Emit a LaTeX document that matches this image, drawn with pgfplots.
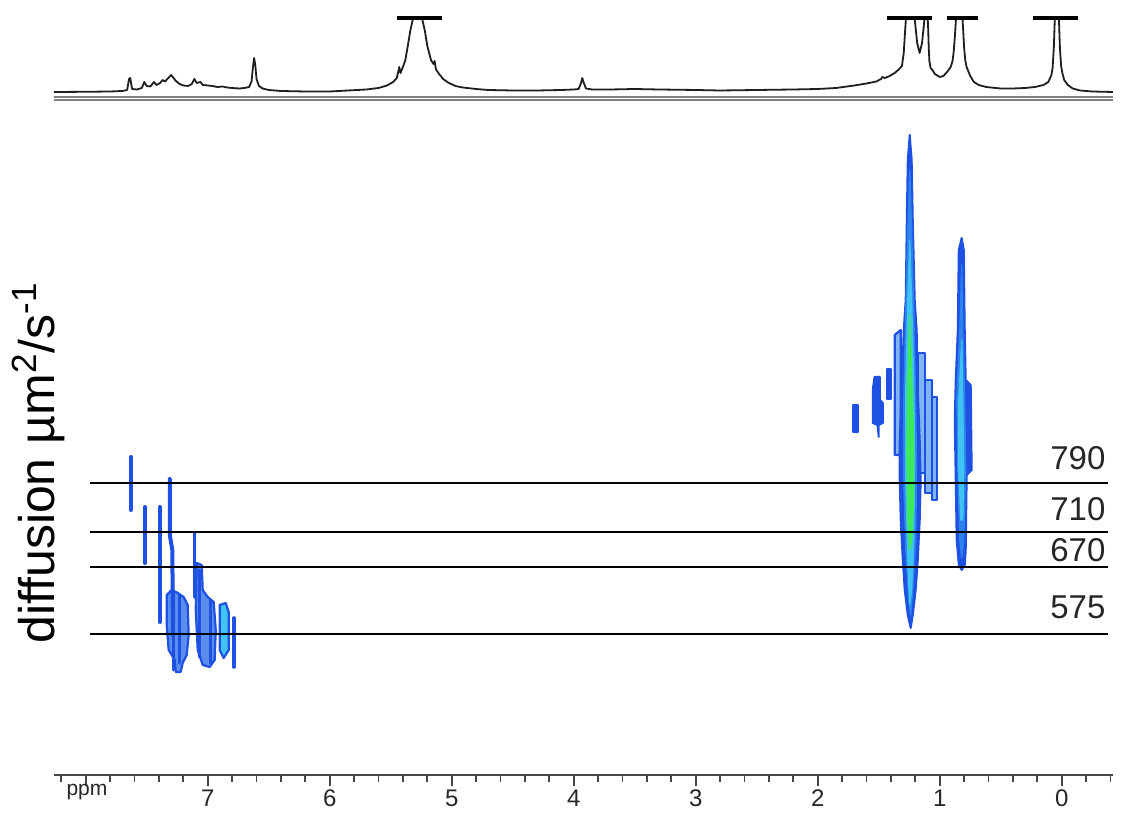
\documentclass[border=0pt]{standalone}
\usepackage{fontspec}
\setmainfont{Liberation Sans}
\usepackage{pgfplots}
\pgfplotsset{compat=1.18}
\definecolor{dblue}{RGB}{30,80,225}
\definecolor{mblue}{RGB}{45,130,238}
\definecolor{cblue}{RGB}{62,195,243}
\definecolor{lgreen}{RGB}{60,232,92}
\definecolor{axgray}{RGB}{70,70,70}
\begin{document}
\begin{tikzpicture}
\useasboundingbox (0,0) rectangle (567pt,407pt);
% ---------- 1D spectrum ----------
\begin{axis}[at={(27pt,355.5pt)}, anchor=south west, scale only axis,
  width=529.5pt, height=42.5pt, xmin=-0.42, xmax=8.26, ymin=0, ymax=85,
  x dir=reverse, axis lines=none, clip=true]
\addplot[color=black!88, line width=0.9pt, line join=round] coordinates {
(8.26,11) (8.00,11.2) (7.80,11.5) (7.70,12) (7.66,13) (7.645,24) (7.635,25) (7.62,14)
(7.58,13.5) (7.54,15) (7.52,21) (7.50,17) (7.47,16.5) (7.44,21) (7.42,18) (7.39,20)
(7.37,23) (7.35,21.5) (7.33,24) (7.30,28) (7.28,25) (7.26,22) (7.23,19) (7.20,17.5)
(7.16,17) (7.13,19) (7.11,24) (7.09,20) (7.06,21) (7.04,18) (7.00,17.5) (6.96,17)
(6.92,16) (6.88,16.5) (6.84,15.5) (6.80,15) (6.74,14.5) (6.70,15) (6.66,16) (6.64,22)
(6.63,35) (6.62,45) (6.61,38) (6.60,24) (6.58,17) (6.55,14.5) (6.50,13) (6.40,12)
(6.20,11.5) (6.00,11.5) (5.85,12.5) (5.70,13.5) (5.60,15) (5.53,17.5) (5.48,21) (5.45,25)
(5.435,33) (5.43,36) (5.42,30) (5.40,36) (5.38,43) (5.36,57) (5.34,72) (5.32,83)
(5.305,92) (5.28,99) (5.255,92) (5.24,83) (5.22,72) (5.20,57) (5.17,43) (5.15,39)
(5.14,42) (5.13,34) (5.11,30) (5.07,24) (5.03,20.5) (4.97,17) (4.91,15.5) (4.80,14)
(4.70,13) (4.50,12.5) (4.30,12.5) (4.10,13) (4.00,13.5) (3.96,14) (3.94,20) (3.93,25)
(3.92,21) (3.90,14.5) (3.85,13.5) (3.70,13.5) (3.50,14) (3.30,13.5) (3.00,13) (2.80,12.5)
(2.50,13) (2.20,13.5) (2.00,14) (1.85,15) (1.70,17.5) (1.60,19.5) (1.52,21.5) (1.48,24)
(1.47,26) (1.45,25) (1.41,27) (1.37,30) (1.34,33) (1.31,37) (1.295,50) (1.285,70)
(1.275,88) (1.24,110) (1.21,88) (1.20,78) (1.185,60) (1.165,50) (1.145,60) (1.13,78)
(1.12,90) (1.11,100) (1.10,88) (1.095,75) (1.09,55) (1.085,42) (1.075,35) (1.06,33)
(1.04,29) (1.00,26) (0.97,27) (0.94,31) (0.91,36) (0.895,42) (0.885,52) (0.875,68)
(0.865,88) (0.84,115) (0.815,88) (0.80,55) (0.79,42) (0.78,36) (0.75,27) (0.72,21)
(0.68,18) (0.62,16) (0.50,14.5) (0.40,14.5) (0.30,15) (0.22,16) (0.15,18) (0.11,21)
(0.085,28) (0.075,35) (0.065,55) (0.058,80) (0.05,100) (0.03,100) (0.022,80) (0.015,55)
(0.005,37) (-0.005,30) (-0.02,23) (-0.05,18) (-0.09,14.5) (-0.15,12.5) (-0.25,11.5) (-0.42,11)
};
\addplot[gray, line width=0.7pt] coordinates {(8.27,5.8) (-0.42,5.8)};
\addplot[gray, line width=0.7pt] coordinates {(8.27,2.8) (-0.42,2.8)};
\end{axis}
% ---------- integration bars ----------
\begin{axis}[at={(27pt,355.5pt)}, anchor=south west, scale only axis,
  width=529.5pt, height=42.5pt, xmin=-0.42, xmax=8.26, ymin=0, ymax=85,
  x dir=reverse, axis lines=none, clip=false]
\addplot[black, line width=1.8pt] coordinates {(5.451,85) (5.082,85)};
\addplot[black, line width=1.8pt] coordinates {(1.434,85) (1.066,85)};
\addplot[black, line width=1.8pt] coordinates {(0.943,85) (0.689,85)};
\addplot[black, line width=1.8pt] coordinates {(0.238,85) (-0.131,85)};
\end{axis}
% ---------- DOSY map ----------
\begin{axis}[at={(27pt,19.5pt)}, anchor=south west, scale only axis,
  width=529.5pt, height=332.5pt, xmin=-0.42, xmax=8.26, ymin=0, ymax=665,
  x dir=reverse, axis x line*=bottom, hide y axis, clip=false,
  xtick={0,1,...,8}, xticklabels={0,1,2,3,4,5,6,7,{}},
  minor xtick={-0.4,-0.2,0.2,0.4,0.6,0.8,1.2,1.4,1.6,1.8,2.2,2.4,2.6,2.8,3.2,3.4,3.6,3.8,4.2,4.4,4.6,4.8,5.2,5.4,5.6,5.8,6.2,6.4,6.6,6.8,7.2,7.4,7.6,7.8,8.2},
  tick align=outside, major tick length=5.5pt, minor tick length=3.6pt,
  x axis line style={line width=1.2pt, color=axgray, -},
  every tick/.style={axgray, line width=0.9pt},
  xticklabel style={font=\fontsize{12}{13}\selectfont, text=black!85, yshift=1.5pt},
  /pgf/number format/assume math mode=true,
  line join=round]
% --- aromatic region ---
\addplot[fill=mblue!45!dblue!75!white, draw=dblue, line width=1.1pt] coordinates {
(7.336,180) (7.295,185) (7.245,182) (7.197,178) (7.164,170) (7.156,140) (7.172,120)
(7.205,112) (7.222,103) (7.262,103) (7.27,115) (7.32,125) (7.336,150)} --cycle;
\addplot[fill=mblue!45!dblue!75!white, draw=dblue, line width=1.1pt] coordinates {
(7.090,212) (7.049,210) (7.041,185) (7.000,178) (6.951,173) (6.934,145) (6.943,115)
(6.984,108) (7.041,110) (7.082,125) (7.098,165)} --cycle;
\addplot[fill=cblue, draw=dblue, line width=1.1pt] coordinates {
(6.902,170) (6.852,172) (6.828,163) (6.828,125) (6.869,117) (6.902,125)} --cycle;
\addplot[dblue, line width=2pt, line cap=round] coordinates {(7.631,318) (7.631,265)};
\addplot[dblue, line width=2pt, line cap=round] coordinates {(7.516,268) (7.516,212)};
\addplot[dblue, line width=2pt, line cap=round] coordinates {(7.393,268) (7.393,153)};
\addplot[dblue, line width=2pt, line cap=round] coordinates {(7.311,296) (7.311,240) (7.290,225) (7.285,140)};
\addplot[dblue, line width=1.8pt, line cap=round] coordinates {(7.107,242) (7.107,178)};
\addplot[dblue, line width=1.8pt, line cap=round] coordinates {(6.787,157) (6.787,108)};
\addplot[dblue, line width=1.5pt, line cap=round] coordinates {(7.279,185) (7.279,105)};
\addplot[dblue, line width=1.5pt, line cap=round] coordinates {(7.230,180) (7.230,112)};
\addplot[dblue, line width=1.5pt, line cap=round] coordinates {(7.066,205) (7.066,118)};
\addplot[dblue, line width=1.5pt, line cap=round] coordinates {(6.975,175) (6.975,112)};
% --- 1.25 ppm small satellite blobs ---
\addplot[fill=dblue, draw=dblue, line width=1pt] coordinates {
(1.713,370) (1.672,370) (1.672,343) (1.713,343)} --cycle;
\addplot[fill=dblue, draw=dblue, line width=1pt] coordinates {
(1.535,398) (1.49,398) (1.49,375) (1.467,372) (1.467,352) (1.50,350) (1.50,338) (1.51,350) (1.549,352) (1.549,385)} --cycle;
\addplot[fill=dblue, draw=dblue, line width=1pt] coordinates {
(1.434,406) (1.402,406) (1.402,376) (1.434,376)} --cycle;
% ragged outer strokes
\addplot[fill=mblue!60!white, draw=dblue, line width=1.1pt] coordinates {
(1.369,440) (1.320,445) (1.320,320) (1.369,320)} --cycle;
\addplot[fill=mblue!60!white, draw=dblue, line width=1.1pt] coordinates {
(1.180,422) (1.123,422) (1.123,302) (1.180,302)} --cycle;
\addplot[fill=mblue!60!white, draw=dblue, line width=1.1pt] coordinates {
(1.123,395) (1.066,395) (1.066,282) (1.123,282)} --cycle;
\addplot[fill=mblue!60!white, draw=dblue, line width=1.1pt] coordinates {
(1.066,378) (1.025,378) (1.025,275) (1.066,275)} --cycle;
% main 1.25 ppm body
\addplot[fill=dblue, draw=dblue, line width=1pt] coordinates {
(1.246,640) (1.230,615) (1.221,555) (1.205,475) (1.189,445) (1.180,385) (1.164,335)
(1.156,295) (1.164,255) (1.180,215) (1.197,185) (1.221,160) (1.238,147) (1.262,160)
(1.287,185) (1.303,215) (1.320,255) (1.328,295) (1.328,335) (1.311,385) (1.295,445)
(1.279,475) (1.270,555) (1.262,615)} --cycle;
\addplot[fill=mblue, draw=mblue, line width=0.6pt] coordinates {
(1.246,605) (1.230,545) (1.213,465) (1.197,375) (1.189,305) (1.197,235) (1.221,185)
(1.238,160) (1.254,175) (1.279,225) (1.295,295) (1.295,375) (1.279,465) (1.262,545)} --cycle;
\addplot[fill=cblue, draw=cblue, line width=0.6pt] coordinates {
(1.246,535) (1.230,475) (1.213,395) (1.205,315) (1.213,235) (1.230,185) (1.246,170)
(1.262,215) (1.279,295) (1.279,385) (1.262,475)} --cycle;
\addplot[fill=lgreen, draw=lgreen, line width=0.6pt] coordinates {
(1.246,460) (1.230,405) (1.213,335) (1.213,275) (1.230,235) (1.246,225) (1.262,255)
(1.270,325) (1.262,395)} --cycle;
% 0.85 ppm peak
\addplot[fill=dblue, draw=dblue, line width=1pt] coordinates {
(0.820,537) (0.803,525) (0.795,445) (0.787,395) (0.746,390) (0.738,305) (0.779,300)
(0.787,225) (0.795,210) (0.820,205) (0.844,210) (0.861,235) (0.869,295) (0.877,355)
(0.869,395) (0.852,445) (0.844,525)} --cycle;
\addplot[fill=mblue, draw=mblue, line width=0.6pt] coordinates {
(0.820,510) (0.811,445) (0.795,375) (0.787,305) (0.803,235) (0.820,217) (0.836,235)
(0.852,305) (0.861,375) (0.836,445)} --cycle;
\addplot[fill=cblue, draw=cblue, line width=0.6pt] coordinates {
(0.820,435) (0.811,375) (0.803,305) (0.811,255) (0.828,255) (0.844,305) (0.844,375)} --cycle;
% reference lines
\addplot[black, line width=1.2pt] coordinates {(7.967,292) (-0.377,292)};
\addplot[black, line width=1.2pt] coordinates {(7.967,243) (-0.377,243)};
\addplot[black, line width=1.2pt] coordinates {(7.967,208) (-0.377,208)};
\addplot[black, line width=1.2pt] coordinates {(7.967,141) (-0.377,141)};
\node[anchor=east, font=\fontsize{16.5}{18}\selectfont, text=black!85, inner sep=0pt] at (axis cs:-0.361,317) {790};
\node[anchor=east, font=\fontsize{16.5}{18}\selectfont, text=black!85, inner sep=0pt] at (axis cs:-0.361,266) {710};
\node[anchor=east, font=\fontsize{16.5}{18}\selectfont, text=black!85, inner sep=0pt] at (axis cs:-0.361,225) {670};
\node[anchor=east, font=\fontsize{16.5}{18}\selectfont, text=black!85, inner sep=0pt] at (axis cs:-0.361,168) {575};
\node[font=\fontsize{10.5}{11}\selectfont, text=black!85, inner sep=0pt] at (axis cs:7.99,-17) {ppm};
\end{axis}
\node[rotate=90, anchor=base, font=\fontsize{25}{28}\selectfont, inner sep=0pt] at (27.5pt,175.5pt) {diffusion µm\textsuperscript{2}/s\textsuperscript{-1}};
\end{tikzpicture}
\end{document}
